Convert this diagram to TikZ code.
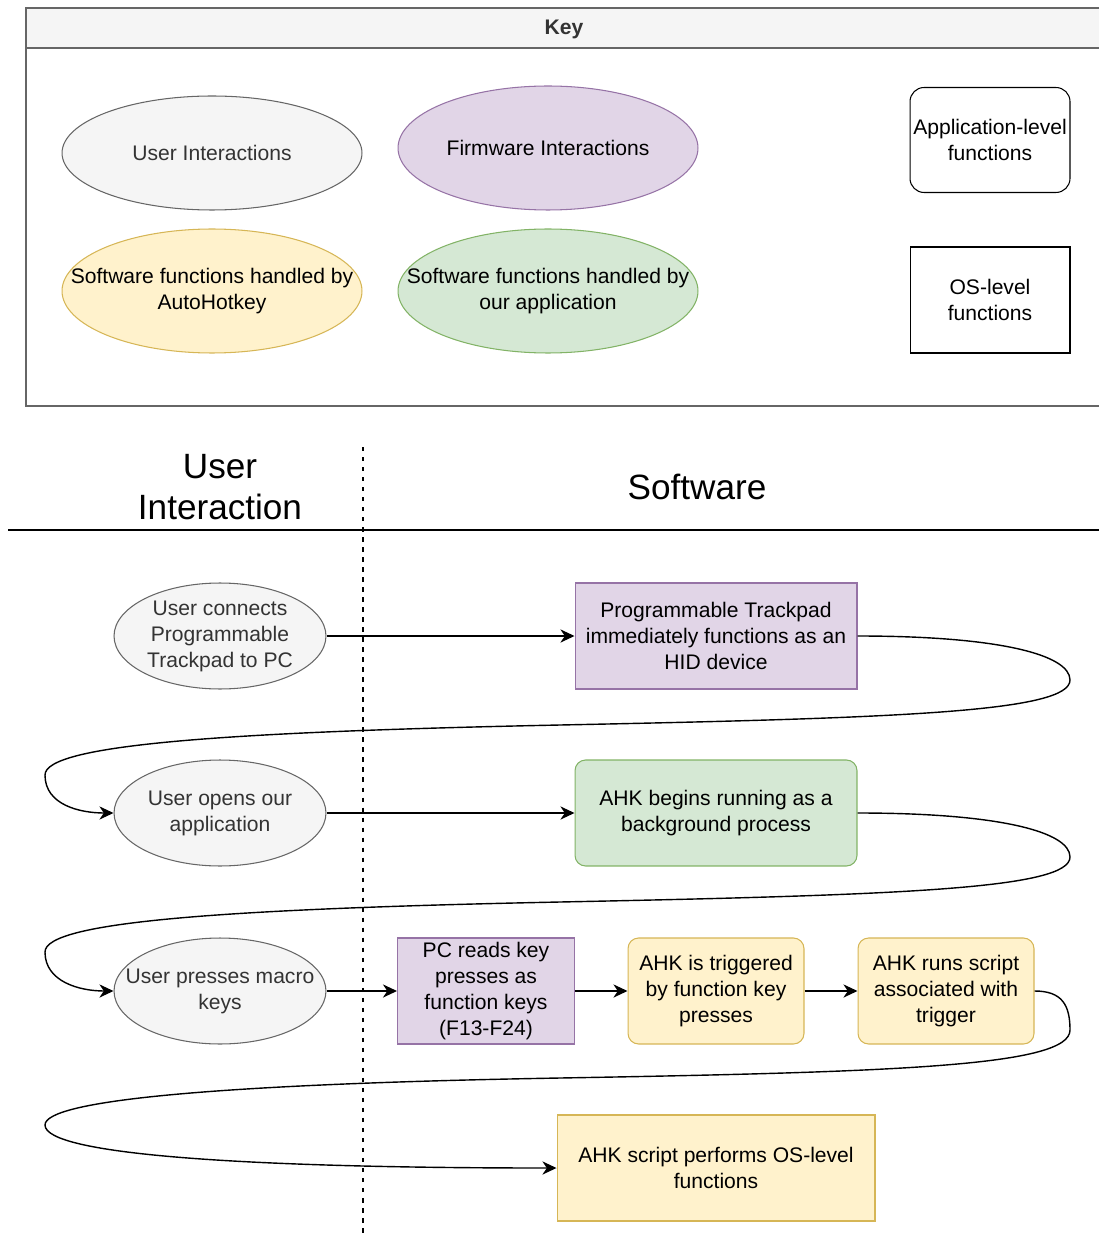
\documentclass[tikz,border=0pt]{standalone}
\usepackage{fontspec}
\setmainfont{Liberation Sans}
\usetikzlibrary{shapes.geometric,arrows.meta}
\definecolor{grayfill}{HTML}{F5F5F5}
\definecolor{graydraw}{HTML}{666666}
\definecolor{graytext}{HTML}{333333}
\definecolor{purplefill}{HTML}{E1D5E7}
\definecolor{purpledraw}{HTML}{9673A6}
\definecolor{yellowfill}{HTML}{FFF2CC}
\definecolor{yellowdraw}{HTML}{D6B656}
\definecolor{greenfill}{HTML}{D5E8D4}
\definecolor{greendraw}{HTML}{82B366}
\begin{document}
\begin{tikzpicture}[x=0.02cm, y=-0.02cm, font=\fontsize{12}{14.8}\selectfont,
        every node/.style={align=center, inner sep=0pt},
        oval/.style={ellipse, draw=graydraw, fill=grayfill, line width=0.6pt},
        keyoval/.style={oval, minimum width=6cm, minimum height=2.48cm},
        useroval/.style={oval, minimum width=4.24cm, minimum height=2.12cm},
        box/.style={rectangle, draw, line width=0.6pt, minimum height=2.12cm},
        firmware/.style={box, draw=purpledraw, fill=purplefill},
        ahkbox/.style={box, draw=yellowdraw, fill=yellowfill},
        appbox/.style={box, draw=greendraw, fill=greenfill},
        roundbox/.style={rounded corners=6pt},
        flow/.style={line width=0.8pt, -{Stealth[length=8pt, width=7.5pt, inset=2.5pt]}}]
                \useasboundingbox (0,0) rectangle (1099,1236);
                \fill[grayfill] (26,8) rectangle (1099,48);
                \draw[graydraw, line width=0.7pt] (1099,8) -- (26,8) -- (26,406) -- (1099,406);
                \draw[graydraw, line width=0.7pt] (26,48) -- (1099,48);
                \node[font=\fontsize{12}{14.8}\selectfont\bfseries, text=graytext] (keytitle) at (564,29) {Key};
                \node[keyoval, minimum height=2.28cm, label={[text=graytext]center:User Interactions}] (kuser) at (212,153) {};
                \node[keyoval, draw=purpledraw, fill=purplefill, label={center:Firmware Interactions}] (kfirm) at (548,148) {};
                \node[keyoval, draw=yellowdraw, fill=yellowfill, label={center:Software functions handled by\\AutoHotkey}] (kahk) at (212,291) {};
                \node[keyoval, draw=greendraw, fill=greenfill, label={center:Software functions handled by\\our application}] (kapp) at (548,291) {};
                \node[box, rounded corners=8pt, minimum width=3.2cm, minimum height=2.1cm] (kapplvl) at (990,140) {Application-level\\functions};
                \node[box, minimum width=3.2cm, minimum height=2.12cm] (koslvl) at (990,300) {OS-level\\functions};
                \node[font=\fontsize{20}{23.8}\selectfont] (userhead) at (220,487) {User\\Interaction};
                \node[font=\fontsize{20}{23.8}\selectfont] (softhead) at (697,487) {Software};
                \draw[line width=0.7pt] (8,530) -- (1099,530);
                \draw[line width=0.6pt, dash pattern=on 2.5pt off 3.2pt] (363,447) -- (363,1236);
                \node[useroval, label={[text=graytext]center:User connects\\Programmable\\Trackpad to PC}] (uconnect) at (220,636) {};
                \node[firmware, minimum width=5.64cm] (hid) at (716,636) {Programmable Trackpad\\immediately functions as an\\HID device};
                \node[useroval, label={[text=graytext]center:User opens our\\application}] (uopen) at (220,813) {};
                \node[appbox, roundbox, minimum width=5.64cm] (ahkstart) at (716,813) {AHK begins running as a\\background process};
                \node[useroval, label={[text=graytext]center:User presses macro\\keys}] (upress) at (220,991) {};
                \node[firmware, minimum width=3.54cm] (pcread) at (486,991) {PC reads key\\presses as\\function keys\\(F13-F24)};
                \node[ahkbox, roundbox, minimum width=3.52cm] (ahktrig) at (716,991) {AHK is triggered\\by function key\\presses};
                \node[ahkbox, roundbox, minimum width=3.52cm] (ahkrun) at (946,991) {AHK runs script\\associated with\\trigger};
                \node[ahkbox, minimum width=6.36cm] (ahkos) at (716,1168) {AHK script performs OS-level\\functions};
                \draw[flow] (uconnect) -- (hid);
                \draw[flow] (hid.east) .. controls (1000,636) and (1070,655) .. (1070,680)
                    .. controls (1070,712) and (900,718) .. (560,725)
                    .. controls (220,732) and (45,745) .. (45,775)
                    .. controls (45,805) and (80,813) .. (uopen.west);
                \draw[flow] (uopen) -- (ahkstart);
                \draw[flow] (ahkstart.east) .. controls (1000,813) and (1070,832) .. (1070,857)
                    .. controls (1070,889) and (900,895) .. (560,902)
                    .. controls (220,909) and (45,922) .. (45,952)
                    .. controls (45,982) and (80,991) .. (upress.west);
                \draw[flow] (upress) -- (pcread);
                \draw[flow] (pcread) -- (ahktrig);
                \draw[flow] (ahktrig) -- (ahkrun);
                \draw[flow] (ahkrun.east) .. controls (1062,991) and (1070,1005) .. (1070,1030)
                    .. controls (1070,1066) and (900,1072) .. (560,1078)
                    .. controls (220,1084) and (45,1100) .. (45,1125)
                    .. controls (45,1155) and (250,1168) .. (ahkos.west);
            \end{tikzpicture}
\end{document}
